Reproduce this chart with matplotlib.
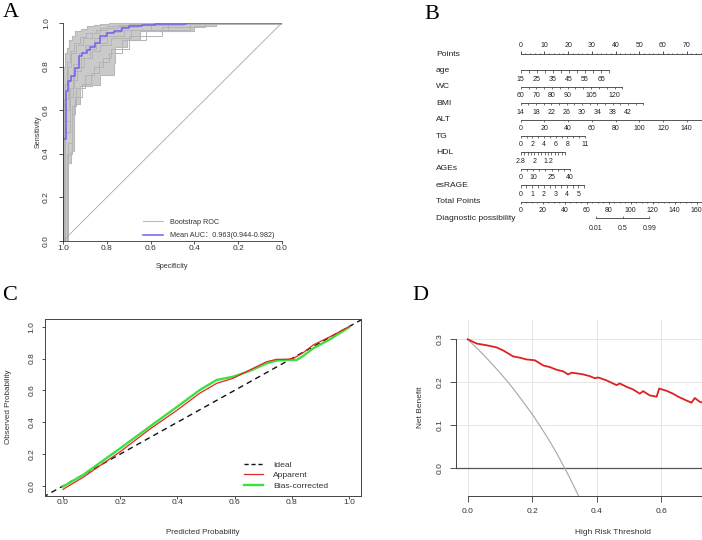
import numpy as np
import matplotlib
matplotlib.use('Agg')
from matplotlib import pyplot as plt
from matplotlib.lines import Line2D

plt.rcParams['font.family'] = ['Liberation Sans', 'Noto Sans CJK SC', 'DejaVu Sans']

W, H = 702, 540

# ---- A: bootstrap ROC (specificity, sensitivity step knots) ----
mean_spec = [1.0, 1.0, 0.989, 0.977, 0.965, 0.945, 0.928, 0.916, 0.893, 0.878,
             0.855, 0.832, 0.80, 0.77, 0.733, 0.70, 0.64, 0.58, 0.44, 0.0]
mean_sens = [0.0, 0.468, 0.686, 0.735, 0.755, 0.795, 0.847, 0.862, 0.877, 0.890,
             0.908, 0.942, 0.954, 0.962, 0.975, 0.985, 0.992, 0.997, 1.0, 1.0]
upper_spec = [1.0, 1.0, 0.993, 0.985, 0.975, 0.96, 0.945, 0.92, 0.893, 0.86, 0.832, 0.79, 0.756, 0.0]
upper_sens = [0.0, 0.80, 0.86, 0.885, 0.923, 0.94, 0.962, 0.972, 0.985, 0.992, 0.997, 0.999, 1.0, 1.0]
lower_spec = [1.0, 0.985, 0.965, 0.951, 0.924, 0.87, 0.832, 0.77, 0.763, 0.71, 0.65, 0.40, 0.30, 0.0]
lower_sens = [0.0, 0.356, 0.41, 0.63, 0.709, 0.716, 0.762, 0.816, 0.89, 0.923, 0.962, 0.988, 1.0, 1.0]
boot_curves = [
    ([1.0, 0.99, 0.97, 0.95, 0.92, 0.88, 0.85, 0.80, 0.72, 0.60, 0.45, 0.0],
     [0.0, 0.55, 0.70, 0.78, 0.84, 0.88, 0.91, 0.94, 0.97, 0.99, 1.0, 1.0]),
    ([1.0, 0.98, 0.96, 0.94, 0.90, 0.86, 0.82, 0.78, 0.70, 0.55, 0.35, 0.0],
     [0.0, 0.45, 0.62, 0.70, 0.76, 0.80, 0.84, 0.88, 0.94, 0.98, 1.0, 1.0]),
    ([1.0, 0.995, 0.98, 0.965, 0.94, 0.91, 0.87, 0.83, 0.75, 0.62, 0.0],
     [0.0, 0.65, 0.80, 0.86, 0.90, 0.93, 0.955, 0.975, 0.99, 1.0, 1.0]),
    ([1.0, 0.99, 0.975, 0.955, 0.93, 0.90, 0.86, 0.81, 0.74, 0.66, 0.5, 0.0],
     [0.0, 0.60, 0.74, 0.81, 0.86, 0.90, 0.93, 0.96, 0.98, 0.995, 1.0, 1.0]),
    ([1.0, 0.985, 0.96, 0.945, 0.915, 0.875, 0.835, 0.79, 0.73, 0.62, 0.42, 0.0],
     [0.0, 0.40, 0.58, 0.66, 0.72, 0.77, 0.82, 0.86, 0.92, 0.97, 1.0, 1.0]),
    ([1.0, 0.993, 0.982, 0.97, 0.95, 0.925, 0.895, 0.85, 0.80, 0.70, 0.55, 0.0],
     [0.0, 0.72, 0.82, 0.87, 0.91, 0.935, 0.955, 0.97, 0.985, 0.995, 1.0, 1.0]),
    ([1.0, 0.99, 0.97, 0.955, 0.935, 0.905, 0.87, 0.83, 0.78, 0.69, 0.52, 0.0],
     [0.0, 0.50, 0.66, 0.74, 0.80, 0.84, 0.87, 0.90, 0.93, 0.97, 0.995, 1.0]),
]
auc_label = 'Mean AUC：0.963(0.944-0.982)'

# ---- B: nomogram ----
points_major = list(range(0, 101, 10))
points_labels = list(range(0, 71, 10))
points_minor = list(range(0, 101, 2))
# name, tick values, labelled values, value at 0 points, points per unit
nomo_vars = [
    ('age', np.arange(15, 71, 5), [15, 25, 35, 45, 55, 65], 15, 0.678),
    ('WC', np.arange(60, 126, 5), [60, 70, 80, 90, 105, 120], 60, 0.66),
    ('BMI', np.arange(14, 47, 2), [14, 18, 22, 26, 30, 34, 38, 42], 14, 1.616),
    ('ALT', np.arange(0, 201, 20), [0, 20, 40, 60, 80, 100, 120, 140], 0, 0.5),
    ('TG', np.arange(0, 12, 1), [0, 2, 4, 6, 8, 11], 0, 2.46),
    ('HDL', np.arange(0.2, 2.81, 0.2), [2.8, 2, 1.2], 2.8, -7.2),
    ('AGEs', np.arange(0, 41, 5), [0, 10, 25, 40], 0, 0.52),
    ('esRAGE', np.arange(0, 5.6, 0.5), [0, 1, 2, 3, 4, 5], 0, 4.87),
]
total_major = list(range(0, 341, 20))
total_labels = list(range(0, 161, 20))
total_minor = list(range(0, 341, 5))
total_scale = 0.464  # points-axis units per total point
diag_labels = ['0.01', '0.5', '0.99']
diag_total = [68.4, 92.7, 117.0]

# ---- C: calibration ----
cal_x = [0, 0.07, 0.2, 0.303, 0.4, 0.478, 0.537, 0.595, 0.653, 0.712, 0.747,
         0.782, 0.805, 0.84, 0.875, 0.934, 1.0]
apparent = [-0.021, 0.054, 0.215, 0.356, 0.477, 0.582, 0.644, 0.676, 0.728, 0.78,
            0.795, 0.795, 0.80, 0.837, 0.885, 0.937, 1.0]
bias_x = [0, 0.07, 0.2, 0.303, 0.4, 0.478, 0.537, 0.595, 0.653, 0.712, 0.747,
          0.782, 0.817, 0.84, 0.875, 0.934, 1.0]
bias_corr = [-0.004, 0.069, 0.236, 0.372, 0.498, 0.602, 0.665, 0.686, 0.722, 0.770,
             0.787, 0.791, 0.791, 0.816, 0.864, 0.921, 0.996]

# ---- D: decision curve ----
thr = [0, 0.028, 0.059, 0.090, 0.110, 0.141, 0.162, 0.182, 0.208, 0.234, 0.255,
       0.275, 0.296, 0.311, 0.322, 0.342, 0.358, 0.378, 0.394, 0.404, 0.430, 0.461,
       0.471, 0.492, 0.512, 0.533, 0.543, 0.564, 0.585, 0.593, 0.615, 0.636, 0.652,
       0.672, 0.693, 0.703, 0.719, 0.74]
nb_model = [0.300, 0.290, 0.286, 0.281, 0.274, 0.260, 0.257, 0.253, 0.251, 0.239, 0.235,
            0.229, 0.225, 0.218, 0.222, 0.220, 0.218, 0.214, 0.209, 0.211, 0.204, 0.193,
            0.197, 0.189, 0.183, 0.173, 0.179, 0.169, 0.166, 0.185, 0.180, 0.173, 0.166,
            0.159, 0.152, 0.163, 0.154, 0.150]
thr_all = [0, 0.025, 0.05, 0.075, 0.10, 0.125, 0.15, 0.175, 0.20, 0.225, 0.25, 0.275,
           0.30, 0.32, 0.343]
nb_all = [0.300, 0.282, 0.263, 0.243, 0.222, 0.200, 0.176, 0.151, 0.125, 0.097, 0.067,
          0.035, 0.0, -0.029, -0.065]
d_ticks = [0.0, 0.2, 0.4, 0.6]


def box(l, t, r, b):
    return [l / W, 1 - b / H, (r - l) / W, (b - t) / H]


def step_xy(x, y):
    xs, ys = [x[0]], [y[0]]
    for i in range(1, len(x)):
        xs += [x[i], x[i]]
        ys += [y[i - 1], y[i]]
    return xs, ys


def ftext(x, y, s, **kw):
    fig.text(x / W, 1 - y / H, s, ha='center', va='center', **kw)


fig = plt.figure(figsize=(W / 100, H / 100), dpi=100)
axc = '#333333'

# panel letters
for s, x, y in [('A', 3, 3), ('B', 424, 5), ('C', 2, 286), ('D', 412, 286)]:
    fig.text(x / W, 1 - y / H, s, ha='left', va='top', fontsize=16,
             family='Liberation Serif')

# ================= A =================
axA = fig.add_axes(box(63.3, 23, 281.7, 240.7))
ux, uy = step_xy(upper_spec, upper_sens)
lx, ly = step_xy(lower_spec, lower_sens)
axA.fill(ux + lx[::-1], uy + ly[::-1], color='#cacaca', lw=0)
axA.step(upper_spec, upper_sens, where='post', color='#b8b8b8', lw=0.8)
axA.step(lower_spec, lower_sens, where='post', color='#b8b8b8', lw=0.8)
for bs, bn in boot_curves:
    axA.step(bs, bn, where='post', color='#b4b4b4', lw=0.7)
axA.plot([1, 0], [0, 1], color='#a8a8a8', lw=0.6)
axA.step(mean_spec, mean_sens, where='post', color='#7a5cf0', lw=1.1)
axA.set_xlim(1.0, 0.0)
axA.set_ylim(0, 1.0)
axA.set_xticks([1.0, 0.8, 0.6, 0.4, 0.2, 0.0])
axA.set_yticks([0.0, 0.2, 0.4, 0.6, 0.8, 1.0])
axA.set_xticklabels(['1.0', '0.8', '0.6', '0.4', '0.2', '0.0'])
axA.set_yticklabels(['0.0', '0.2', '0.4', '0.6', '0.8', '1.0'], rotation=90, va='center')
axA.tick_params(axis='x', length=2.5, width=0.6, pad=0.5, labelsize=6, colors=axc)
axA.tick_params(axis='y', length=3, width=0.6, pad=6.5, labelsize=6, colors=axc)
for sp in ['top', 'right']:
    axA.spines[sp].set_visible(False)
for sp in ['left', 'bottom']:
    axA.spines[sp].set_linewidth(0.6)
    axA.spines[sp].set_color(axc)
axA.patch.set_alpha(0)
ftext(172, 267, 'Specificity', fontsize=5.2, color=axc)
ftext(38, 132, 'Sensitivity', fontsize=5.2, rotation=90, color=axc)
hA = [Line2D([], [], color='#bcbcbc', lw=0.8), Line2D([], [], color='#7a5cf0', lw=1.1)]
axA.legend(hA, ['Bootstrap ROC', auc_label], loc='upper left',
           bbox_to_anchor=(143 / W, 1 - 218.5 / H), bbox_transform=fig.transFigure,
           frameon=False, fontsize=5.2, handlelength=2.8, handletextpad=1.0,
           labelspacing=0.95, borderpad=0, borderaxespad=0, labelcolor=axc)

# ================= B =================
axB = fig.add_axes(box(420, 0, 702, 240))
px_per_pt = 2.37
axB.set_xlim(-(520.7 - 420) / px_per_pt, (702 - 520.7) / px_per_pt)
axB.set_ylim(240, 0)
axB.axis('off')
lc = '#3a3a3a'
lw_n = 0.6
lab_tf = axB.get_yaxis_transform()
row_y = [54 + 16.4 * i for i in range(11)]
lab_x = (436 - 420) / 282
nfs = 5.0

# Points
y = row_y[0]
axB.text(lab_x, y, 'Points', transform=lab_tf, ha='left', va='center', fontsize=6.1, color='#222')
axB.plot([0, 100], [y, y], color=lc, lw=lw_n)
axB.vlines(points_minor, y - 1.4, y, color=lc, lw=0.5)
axB.vlines(points_major, y - 2.8, y, color=lc, lw=0.6)
for p in points_labels:
    axB.text(p, y - 8.5, str(p), ha='center', va='center', fontsize=nfs, color='#222')

for i, (name, ticks, labs, zero, ppu) in enumerate(nomo_vars):
    y = row_y[i + 1]
    axB.text(lab_x, y, name, transform=lab_tf, ha='left', va='center', fontsize=6.1, color='#222')
    xt = (np.asarray(ticks, float) - zero) * ppu
    axB.plot([xt.min(), xt.max()], [y, y], color=lc, lw=lw_n)
    axB.vlines(xt, y, y + 2.3, color=lc, lw=0.5)
    for v in labs:
        axB.text((v - zero) * ppu, y + 9, str(v), ha='center', va='center',
                 fontsize=nfs, color='#222')

# Total points
y = row_y[9]
axB.text(lab_x, y, 'Total Points', transform=lab_tf, ha='left', va='center', fontsize=6.1, color='#222')
tm = np.asarray(total_minor) * total_scale
axB.plot([0, tm.max()], [y, y], color=lc, lw=lw_n)
axB.vlines(tm, y, y + 1.6, color=lc, lw=0.5)
axB.vlines(np.asarray(total_major) * total_scale, y, y + 2.3, color=lc, lw=0.5)
for t in total_labels:
    axB.text(t * total_scale, y + 9, str(t), ha='center', va='center', fontsize=nfs, color='#222')

# Diagnostic possibility
y = row_y[10]
axB.text(lab_x, y, 'Diagnostic possibility', transform=lab_tf, ha='left', va='center',
         fontsize=6.1, color='#222')
dx = np.asarray(diag_total) * total_scale
axB.plot([dx.min(), dx.max()], [y, y], color=lc, lw=lw_n)
axB.vlines(dx, y - 2.3, y, color=lc, lw=0.5)
for xv, s in zip(dx, diag_labels):
    axB.text(xv, y + 10, s, ha='center', va='center', fontsize=nfs, color='#222')

# ================= C =================
axC = fig.add_axes(box(45, 319, 361, 496))
axC.plot([-0.1, 1.1], [-0.1, 1.1], color='#111111', lw=1.0, ls=(0, (4, 3)))
axC.plot(bias_x, bias_corr, color='#3ee03e', lw=1.7)
axC.plot(cal_x, apparent, color='#e02828', lw=0.9)
axC.set_xlim(-0.063, 1.042)
axC.set_ylim(-0.063, 1.048)
ticksC = [0.0, 0.2, 0.4, 0.6, 0.8, 1.0]
axC.set_xticks(ticksC)
axC.set_yticks(ticksC)
axC.set_xticklabels(['%.1f' % t for t in ticksC])
axC.set_yticklabels(['%.1f' % t for t in ticksC], rotation=90, va='center')
axC.tick_params(axis='x', length=2, width=0.6, pad=0.3, labelsize=6, colors=axc)
axC.tick_params(axis='y', length=2, width=0.6, pad=4.7, labelsize=6, colors=axc)
for sp in axC.spines.values():
    sp.set_linewidth(0.7)
    sp.set_color('#444444')
ftext(203, 533, 'Predicted Probability', fontsize=5.8, color=axc)
ftext(9, 407, 'Observed Probability', fontsize=5.8, rotation=90, color=axc)
hC = [Line2D([], [], color='#111111', lw=1.0, ls=(0, (3, 2))),
      Line2D([], [], color='#e02828', lw=0.9),
      Line2D([], [], color='#3ee03e', lw=1.7)]
axC.legend(hC, ['Ideal', 'Apparent', 'Bias-corrected'], loc='upper left',
           bbox_to_anchor=(244 / W, 1 - 461 / H), bbox_transform=fig.transFigure,
           frameon=False, fontsize=6.1, handlelength=2.2, handletextpad=1.2,
           labelspacing=0.3, borderpad=0, borderaxespad=0, labelcolor=axc)

# ================= D =================
axD = fig.add_axes(box(456, 320, 770, 495.7))
axD.set_xlim(-0.036, 0.936)
axD.set_ylim(-0.065, 0.345)
axD.set_xticks(d_ticks)
axD.set_yticks([0.0, 0.1, 0.2, 0.3])
axD.grid(True, color='#e6e6e6', lw=0.7)
axD.set_axisbelow(True)
axD.axhline(0, color='#555555', lw=0.9)
axD.plot(thr_all, nb_all, color='#a6a6a6', lw=0.8)
axD.plot(thr, nb_model, color='#e02020', lw=1.3)
axD.set_xticklabels(['%.1f' % t for t in d_ticks])
axD.set_yticklabels(['0.0', '0.1', '0.2', '0.3'], rotation=90, va='center')
axD.tick_params(axis='x', length=4.5, width=0.6, pad=4, labelsize=6, colors=axc)
axD.tick_params(axis='y', length=4.5, width=0.6, pad=4.7, labelsize=6, colors=axc)
for sp in ['top', 'right']:
    axD.spines[sp].set_visible(False)
axD.spines['left'].set_bounds(0, 0.3)
axD.spines['bottom'].set_bounds(0, 0.8)
for sp in ['left', 'bottom']:
    axD.spines[sp].set_linewidth(0.7)
    axD.spines[sp].set_color('#444444')
ftext(613, 533, 'High Risk Threshold', fontsize=6, color=axc)
ftext(420, 407, 'Net Benefit', fontsize=6, rotation=90, color=axc)

fig.savefig('out.png', dpi=100)
